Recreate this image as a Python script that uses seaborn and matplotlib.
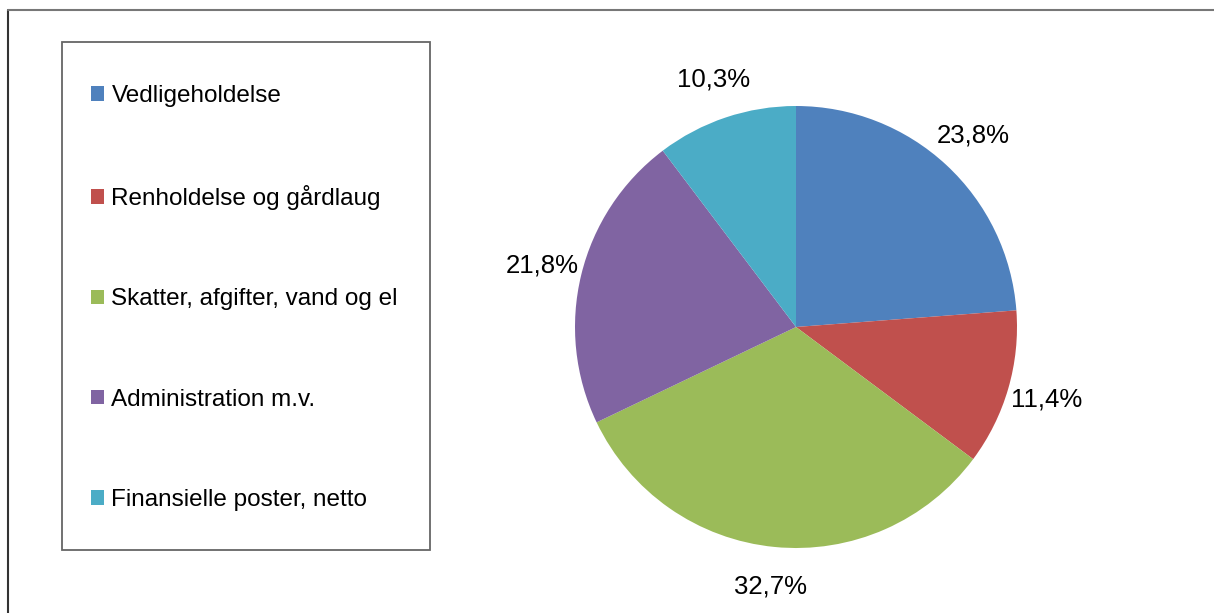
import matplotlib
matplotlib.use("Agg")
import matplotlib.pyplot as plt
import seaborn as sns
from matplotlib.patches import Rectangle
from matplotlib.lines import Line2D

# Data
categories = ["Vedligeholdelse", "Renholdelse og gårdlaug",
              "Skatter, afgifter, vand og el", "Administration m.v.",
              "Finansielle poster, netto"]
shares = [23.8, 11.4, 32.7, 21.8, 10.3]
colors = ["#4F81BD", "#C0504D", "#9BBB59", "#8064A2", "#4BACC6"]


def main():
    sns.set_theme(style="white")
    plt.rcParams['font.family'] = ['Liberation Sans', 'DejaVu Sans']
    plt.rcParams['text.color'] = 'black'

    fig = plt.figure(figsize=(12.14, 6.13), dpi=100)
    fig.patch.set_facecolor("white")

    # pie axes (square box around the pie)
    ax = fig.add_axes([575 / 1214, 65 / 613, 442 / 1214, 442 / 613])
    wedges, texts, autotexts = ax.pie(
        shares,
        colors=sns.color_palette(colors),
        startangle=90,
        counterclock=False,
        radius=1.0,
        autopct=lambda p: f"{p:.1f}%".replace(".", ","),
        pctdistance=1.18,
        wedgeprops={'linewidth': 0, 'edgecolor': 'none'},
        textprops={'fontsize': 18.5, 'color': 'black'},
    )
    ax.set_xlim(-1, 1)
    ax.set_ylim(-1, 1)
    ax.set_aspect('equal')
    ax.axis('off')

    # legend with a plain box around it
    fig.add_artist(Rectangle((62 / 1214, 63 / 613), 368 / 1214, 508 / 613,
                             transform=fig.transFigure, fill=False,
                             edgecolor='#666666', linewidth=1.3))
    leg = fig.legend(wedges, categories, loc='center left',
                     bbox_to_anchor=(91 / 1214, 1 - 298 / 613),
                     frameon=False, fontsize=17.5, borderpad=0, borderaxespad=0,
                     handlelength=0.54, handleheight=0.54, handletextpad=0.3,
                     labelspacing=3.22)
    for t in leg.get_texts():
        t.set_color('black')

    # outer chart frame (left and top edges only visible)
    fig.add_artist(Line2D([8 / 1214, 8 / 1214], [0, 1 - 10 / 613],
                          transform=fig.transFigure, color='#333333', lw=1.5))
    fig.add_artist(Line2D([8 / 1214, 1], [1 - 10 / 613, 1 - 10 / 613],
                          transform=fig.transFigure, color='#777777', lw=1.5))

    fig.savefig("out.png", dpi=100, facecolor="white")


if __name__ == "__main__":
    main()
